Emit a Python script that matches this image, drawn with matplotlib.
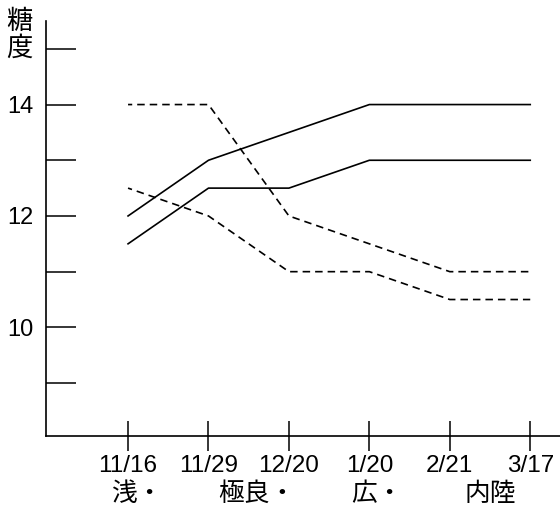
import matplotlib
matplotlib.use("Agg")
import matplotlib.pyplot as plt
from matplotlib import transforms

plt.rcParams["font.family"] = ["Liberation Sans", "Noto Sans CJK JP", "DejaVu Sans"]

dates = ["11/16", "11/29", "12/20", "1/20", "2/21", "3/17"]
solid_upper = [12, 13, 13.5, 14, 14, 14]
solid_lower = [11.5, 12.5, 12.5, 13, 13, 13]
dashed_upper = [14, 14, 12, 11.5, 11, 11]
dashed_lower = [12.5, 12, 11, 11, 10.5, 10.5]
regions = ["浅・", "極良・", "広・", "内陸"]
region_pos = [0.11, 1.6, 3.1, 4.5]
y_ticks = [9, 10, 11, 12, 13, 14, 15]

fig = plt.figure(figsize=(5.6, 5.11), dpi=100)
ax = fig.add_axes([46 / 560, 75 / 511, 1 - 46 / 560, 415 / 511])

x = list(range(len(dates)))
for ys in (solid_upper, solid_lower):
    ax.plot(x, ys, color="black", lw=1.2)
for ys in (dashed_upper, dashed_lower):
    ax.plot(x, ys, color="black", lw=1.2, linestyle=(2, (4.5, 3)))

ax.set_xlim(-1.02, 5.37)
ax.set_ylim(8.05, 15.5)

for side in ("top", "right"):
    ax.spines[side].set_visible(False)
for side in ("left", "bottom"):
    ax.spines[side].set_linewidth(1.2)

ax.set_yticks(y_ticks)
ax.set_yticklabels([str(t) if t % 2 == 0 else "" for t in y_ticks])
ax.tick_params(axis="y", direction="in", length=21.6, width=1.1, pad=9, labelsize=17)
ax.set_xticks(x)
ax.set_xticklabels(dates)
ax.tick_params(axis="x", direction="inout", length=22, width=1.1, pad=3, labelsize=17.5)

trans = transforms.blended_transform_factory(ax.transData, ax.transAxes)
for pos, name in zip(region_pos, regions):
    ax.text(pos, -0.14, name, transform=trans, ha="center", va="center",
            fontsize=18.5, family=["Noto Sans CJK JP", "DejaVu Sans"])

fig.text(19 / 560, 1 - 35 / 511, "糖\n度", ha="center", va="center",
         fontsize=19, linespacing=1.0, family=["Noto Sans CJK JP", "DejaVu Sans"])

fig.savefig("out.png", dpi=100)
